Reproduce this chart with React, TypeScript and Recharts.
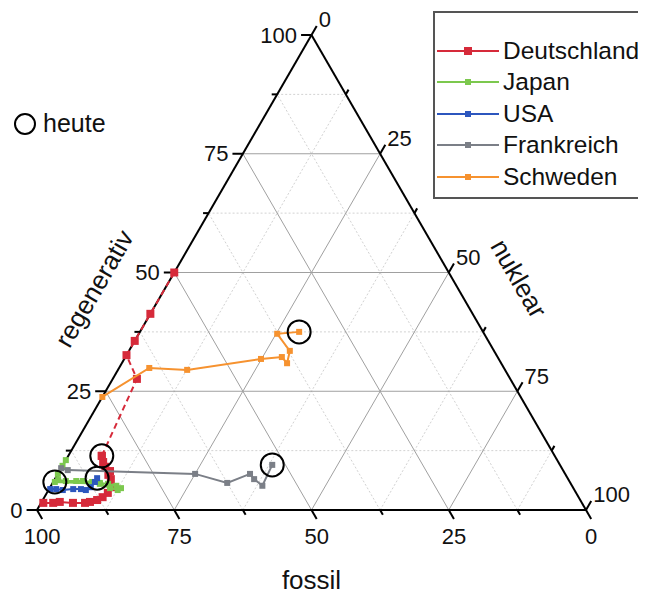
import React from 'react';
import { ScatterChart, Scatter, XAxis, YAxis, ReferenceLine, ReferenceDot, Legend } from 'recharts';

const laender = ['Deutschland', 'Japan', 'USA', 'Frankreich', 'Schweden'];
const farben = ['#d62a3a', '#7cc84e', '#2c56be', '#7b7f87', '#f6922f'];

// Anteile am Primärenergieverbrauch in % (fossil = 100 - regenerativ - nuklear)
const deRegenerativ = [1.5, 1.5, 1.7, 1.5, 1.5, 1.7, 2.1, 2.7, 3.6, 4.8, 6.5, 7.4, 8.2, 9.1, 10.1, 11.4];
const deNuklear = [0.4, 2.2, 3.3, 5.8, 8.0, 8.8, 9.9, 10.6, 11.1, 11.1, 10.2, 9.3, 9.2, 7.9, 7.0, 6.1];
// Ziele Deutschland (gestrichelt), beginnend beim heutigen Stand
const deZielRegenerativ = [11.4, 27.6, 32.6, 35.6, 41.3, 50];
const deZielNuklear = [6.1, 4.4, 0, 0, 0, 0];

const jpRegenerativ = [10.5, 9.3, 7.6, 6.3, 6.1, 6.1, 6.1, 5.9, 5.7, 5.5, 5.1, 4.6, 4.2, 4.6, 5.5, 5.9];
const jpNuklear = [0, 0, 0, 0.7, 2.2, 4.1, 5.3, 7.1, 8.6, 10.2, 11.9, 13.0, 12.6, 11.0, 8.7, 0.3];

const usRegenerativ = [4.4, 4.4, 4.2, 4.4, 4.4, 4.2, 4.8, 5.9, 6.7];
const usNuklear = [0.2, 1.3, 2.6, 4.4, 5.8, 6.8, 7.4, 7.6, 7.6];

const frRegenerativ = [8.8, 8.4, 7.6, 5.7, 7.6, 6.5, 5.1, 9.5];
const frNuklear = [0, 1.4, 25.0, 31.8, 35.0, 36.3, 38.5, 38.1];

const seRegenerativ = [23.8, 29.9, 29.5, 31.8, 32.2, 30.9, 33.5, 37.1, 37.5];
const seNuklear = [0, 5.5, 12.6, 24.9, 28.5, 30.1, 29.3, 25.2, 29.0];

const hauptWerte = [0, 25, 50, 75, 100];
const nebenWerte = [12.5, 37.5, 62.5, 87.5];

const H = Math.sqrt(3) / 2;
// ternär -> kartesisch: Spitze oben = 100 % regenerativ, unten rechts = 100 % nuklear
const punkt = (r: number, n: number) => ({ x: n + r / 2, y: r * H });
const reihe = (regen: number[], nuk: number[]) => regen.map((r, i) => punkt(r, nuk[i]));

const serien = [
  reihe(deRegenerativ, deNuklear),
  reihe(jpRegenerativ, jpNuklear),
  reihe(usRegenerativ, usNuklear),
  reihe(frRegenerativ, frNuklear),
  reihe(seRegenerativ, seNuklear),
];
const deZiel = reihe(deZielRegenerativ, deZielNuklear);
const heute = serien.map((s) => s[s.length - 1]);

type P = { x: number; y: number };

// Linien konstanter Anteile: regenerativ = v, fossil = v, nuklear = v
const gitter = (v: number): [P, P][] => [
  [punkt(v, 0), punkt(v, 100 - v)],
  [punkt(0, 100 - v), punkt(100 - v, 0)],
  [punkt(0, v), punkt(100 - v, v)],
];

// Teilstriche außen an den drei Kanten
const striche = (v: number, len: number) => {
  const links = punkt(v, 0);
  const unten = punkt(0, 100 - v);
  const rechts = punkt(100 - v, v);
  return {
    links: [links, { x: links.x - len, y: links.y }] as [P, P],
    unten: [unten, { x: unten.x + len / 2, y: unten.y - len * H }] as [P, P],
    rechts: [rechts, { x: rechts.x + len / 2, y: rechts.y + len * H }] as [P, P],
  };
};

const HAUPT = 1.9;
const NEBEN = 1.0;

const Quadrat = (size: number, color: string) => (props: any) => {
  const { cx, cy } = props;
  if (cx == null || cy == null) return <g />;
  return <rect x={cx - size / 2} y={cy - size / 2} width={size} height={size} fill={color} />;
};

const Beschriftung = (text: string, anchor: 'start' | 'middle' | 'end', dx: number, dy: number, size = 22, rotate = 0) =>
  (props: any) => {
    const { cx, cy } = props;
    const x = cx + dx;
    const y = cy + dy;
    return (
      <text
        x={x}
        y={y}
        textAnchor={anchor}
        dominantBaseline="central"
        fontSize={size}
        fill="#111"
        transform={rotate ? `rotate(${rotate} ${x} ${y})` : undefined}
      >
        {text}
      </text>
    );
  };

// Legendenrahmen läuft rechts aus dem Bild, daher ohne rechte Kante
const LegendBox = () => (
  <div
    style={{
      position: 'relative',
      width: 213,
      height: 188,
      border: '2px solid #555',
      borderRight: 'none',
      boxSizing: 'border-box',
      background: '#fff',
    }}
  >
    {laender.map((name, i) => (
      <div key={name} style={{ position: 'absolute', left: 2, top: 22 + i * 31.4, height: 32, display: 'flex', alignItems: 'center' }}>
        <svg width={64} height={12} style={{ display: 'block' }}>
          <line x1={0} x2={62} y1={6} y2={6} stroke={farben[i]} strokeWidth={2} />
          <rect x={i === 0 ? 27 : 28} y={i === 0 ? 2 : 3} width={i === 0 ? 8 : 6} height={i === 0 ? 8 : 6} fill={farben[i]} />
        </svg>
        <span style={{ fontSize: 24.5, marginLeft: 2, color: '#111', lineHeight: '32px', whiteSpace: 'nowrap' }}>{name}</span>
      </div>
    ))}
  </div>
);

export default function App() {
  return (
    <div style={{ position: 'relative', width: 630, height: 591, marginBottom: -8, fontFamily: '"Liberation Sans", Arial, sans-serif' }}>
      <ScatterChart width={630} height={591} margin={{ top: 27, right: 52, bottom: 89, left: 29 }}>
        <XAxis type="number" dataKey="x" domain={[0, 100]} hide />
        <YAxis type="number" dataKey="y" domain={[0, 100 * H]} hide />

        {nebenWerte.flatMap((v) =>
          gitter(v).map((seg, k) => (
            <ReferenceLine key={`n${v}-${k}`} segment={seg} stroke="#d2d2d2" strokeWidth={1} strokeDasharray="2 2" ifOverflow="visible" />
          ))
        )}
        {[25, 50, 75].flatMap((v) =>
          gitter(v).map((seg, k) => (
            <ReferenceLine key={`h${v}-${k}`} segment={seg} stroke="#a0a0a0" strokeWidth={1} ifOverflow="visible" />
          ))
        )}
        {gitter(0).map((seg, k) => (
          <ReferenceLine key={`rand${k}`} segment={seg} stroke="#000" strokeWidth={2} ifOverflow="visible" />
        ))}
        {hauptWerte.flatMap((v) => {
          const s = striche(v, HAUPT);
          return [s.links, s.unten, s.rechts].map((seg, k) => (
            <ReferenceLine key={`th${v}-${k}`} segment={seg} stroke="#000" strokeWidth={2} ifOverflow="visible" />
          ));
        })}
        {nebenWerte.flatMap((v) => {
          const s = striche(v, NEBEN);
          return [s.links, s.unten, s.rechts].map((seg, k) => (
            <ReferenceLine key={`tn${v}-${k}`} segment={seg} stroke="#000" strokeWidth={2} ifOverflow="visible" />
          ));
        })}

        {hauptWerte.map((v) => {
          const s = striche(v, HAUPT);
          return (
            <React.Fragment key={`lab${v}`}>
              <ReferenceDot x={s.links[1].x} y={s.links[1].y} r={0} ifOverflow="visible" shape={Beschriftung(String(v), 'end', -4, 0)} />
              <ReferenceDot x={s.unten[1].x} y={s.unten[1].y} r={0} ifOverflow="visible" shape={Beschriftung(String(v), 'middle', 0, 17)} />
              <ReferenceDot x={s.rechts[1].x} y={s.rechts[1].y} r={0} ifOverflow="visible" shape={Beschriftung(String(v), 'start', 2, -6)} />
            </React.Fragment>
          );
        })}

        <ReferenceDot x={50} y={0} r={0} ifOverflow="visible" shape={Beschriftung('fossil', 'middle', 0, 70, 26)} />
        <ReferenceDot x={25} y={50 * H} r={0} ifOverflow="visible" shape={Beschriftung('regenerativ', 'middle', -80, 16, 26, -60)} />
        <ReferenceDot x={75} y={50 * H} r={0} ifOverflow="visible" shape={Beschriftung('nuklear', 'middle', 70, 6, 26, 60)} />

        <Scatter
          data={deZiel}
          isAnimationActive={false}
          line={{ stroke: farben[0], strokeWidth: 2, strokeDasharray: '6 4' }}
          shape={Quadrat(8, farben[0])}
        />
        {serien.map((data, i) => (
          <Scatter
            key={laender[i]}
            name={laender[i]}
            data={data}
            isAnimationActive={false}
            line={{ stroke: farben[i], strokeWidth: 2 }}
            shape={Quadrat(i === 0 ? 8 : 6, farben[i])}
          />
        ))}

        {heute.map((p, i) => (
          <ReferenceDot key={`heute${i}`} x={p.x} y={p.y} r={11.5} fill="none" stroke="#000" strokeWidth={2} ifOverflow="visible" />
        ))}

        <Legend
          layout="vertical"
          align="center"
          verticalAlign="middle"
          content={() => <LegendBox />}
          wrapperStyle={{ position: 'absolute', left: 425, top: 3, width: 213, height: 188 }}
        />
      </ScatterChart>

      <div style={{ position: 'absolute', left: 5, top: 101, display: 'flex', alignItems: 'center' }}>
        <svg width={24} height={24} style={{ display: 'block' }}>
          <circle cx={12} cy={12} r={10} fill="none" stroke="#000" strokeWidth={2} />
        </svg>
        <span style={{ fontSize: 25, marginLeft: 6, color: '#111' }}>heute</span>
      </div>
    </div>
  );
}
